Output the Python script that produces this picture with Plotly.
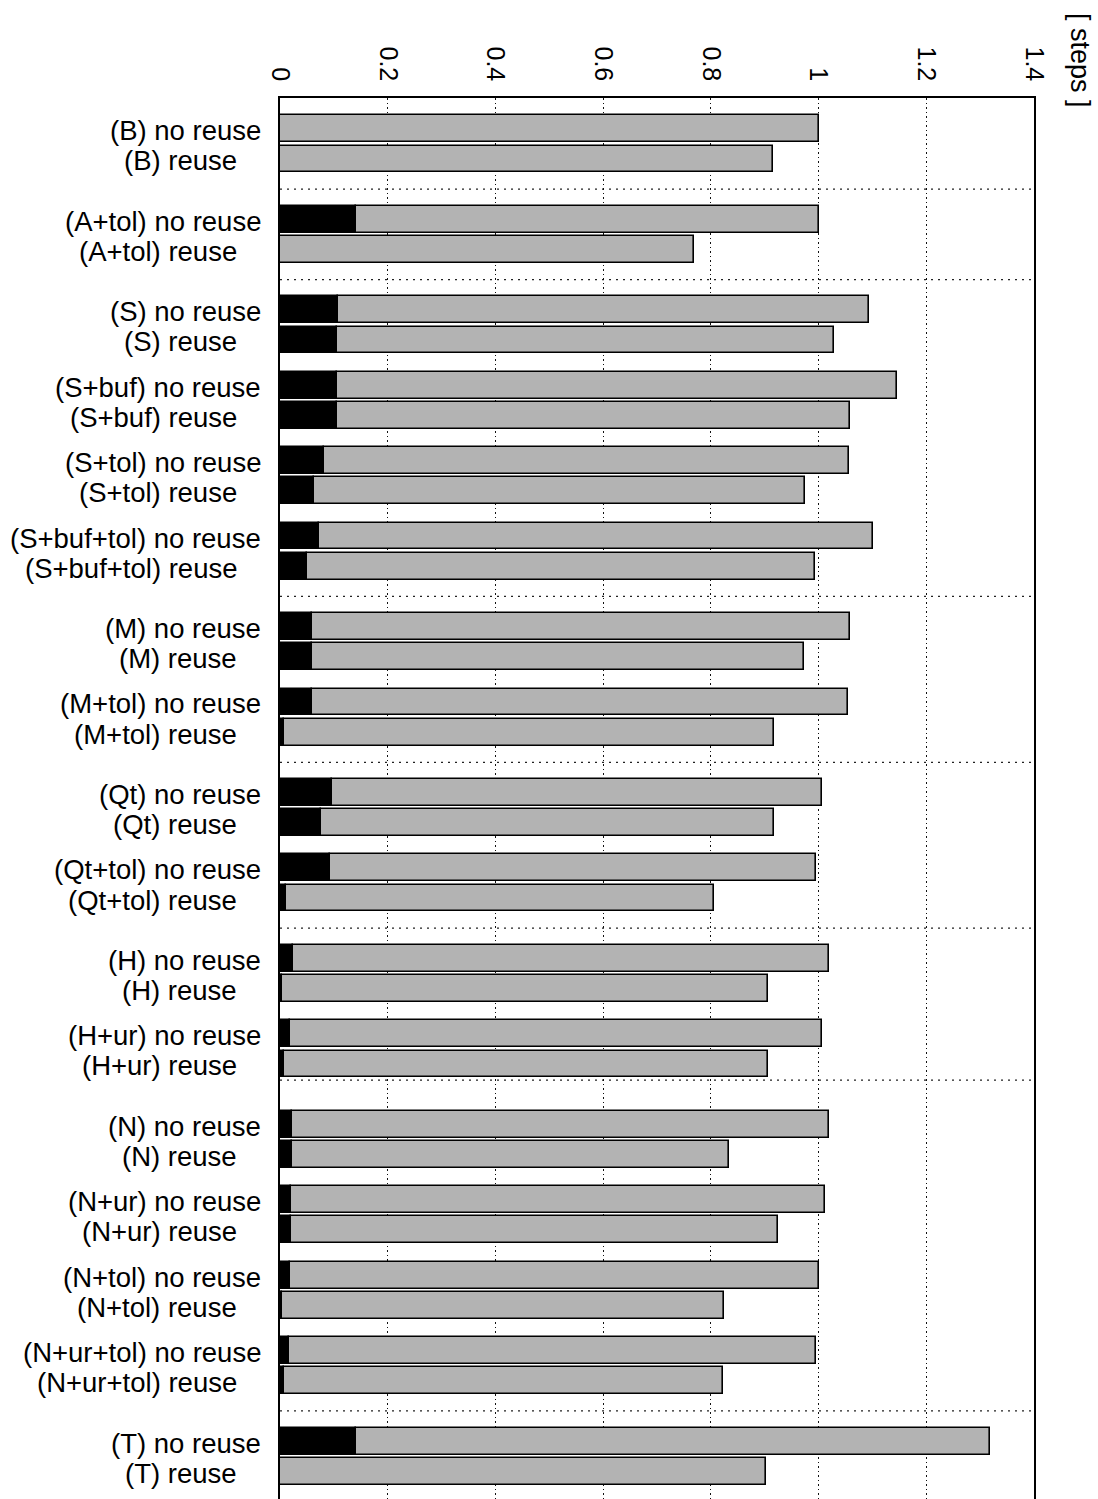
import plotly.graph_objects as go

# Methods, in drawing order (top to bottom), and how they are grouped
methods = ["(B)", "(A+tol)", "(S)", "(S+buf)", "(S+tol)", "(S+buf+tol)",
           "(M)", "(M+tol)", "(Qt)", "(Qt+tol)", "(H)", "(H+ur)",
           "(N)", "(N+ur)", "(N+tol)", "(N+ur+tol)", "(T)"]
group_sizes = [1, 1, 4, 2, 2, 2, 4, 1]

# Steps, normalised: black part and total bar length
black_no_reuse = [0.0, 0.142, 0.107, 0.106, 0.081, 0.073, 0.060, 0.060, 0.097,
                  0.092, 0.024, 0.019, 0.023, 0.0195, 0.018, 0.016, 0.142]
total_no_reuse = [1.000, 1.000, 1.093, 1.145, 1.056, 1.101, 1.059, 1.054, 1.006,
                  0.996, 1.020, 1.006, 1.019, 1.012, 1.000, 0.996, 1.319]
black_reuse = [0.0, 0.0, 0.105, 0.105, 0.063, 0.050, 0.059, 0.007, 0.076,
               0.011, 0.003, 0.0065, 0.023, 0.0195, 0.004, 0.007, 0.0]
total_reuse = [0.916, 0.768, 1.028, 1.059, 0.975, 0.993, 0.973, 0.918, 0.917,
               0.806, 0.907, 0.906, 0.833, 0.925, 0.824, 0.823, 0.903]

x_ticks = [0, 0.2, 0.4, 0.6, 0.8, 1, 1.2, 1.4]
x_tick_text = ["0", "0.2", "0.4", "0.6", "0.8", "1", "1.2", "1.4"]

# Row layout: the two rows of a pair are 2 apart, pairs in a group 3 apart,
# groups 4 apart, with a dotted separator between groups
labels, ys, blacks, totals, is_reuse = [], [], [], [], []
separators = []
prev = None
k = 0
for gi, n in enumerate(group_sizes):
    for j in range(n):
        y_nr = 0.0 if prev is None else prev + (4.0 if j == 0 else 3.0)
        m = methods[k]
        labels += [m + " no reuse", m + " reuse"]
        ys += [y_nr, y_nr + 2.0]
        blacks += [black_no_reuse[k], black_reuse[k]]
        totals += [total_no_reuse[k], total_reuse[k]]
        is_reuse += [False, True]
        prev = y_nr + 2.0
        k += 1
    if gi < len(group_sizes) - 1:
        separators.append(prev + (1.07 if methods[k - 1] == "(H+ur)" else 2.0))

gray = [t - b for t, b in zip(totals, blacks)]

FONT = "Liberation Sans, Arial, Helvetica, sans-serif"

fig = go.Figure()
fig.add_trace(go.Bar(
    y=ys, x=blacks, orientation="h", width=1.78,
    marker=dict(color="#000000", line=dict(color="#000000", width=1.6)),
    showlegend=False, hoverinfo="skip",
))
fig.add_trace(go.Bar(
    y=ys, x=gray, orientation="h", width=1.78, base=blacks,
    marker=dict(color="#b3b3b3", line=dict(color="#000000", width=1.6)),
    showlegend=False, hoverinfo="skip",
))

shapes = []
for s in separators:
    shapes.append(dict(type="line", xref="x", yref="y", x0=0, x1=1.395, y0=s, y1=s,
                       line=dict(color="#222222", width=1.3, dash="2px,5px"),
                       layer="below"))

annotations = []
for lab, y, r in zip(labels, ys, is_reuse):
    annotations.append(dict(
        text=lab, xref="paper", yref="y", x=0, y=y,
        xanchor="right", yanchor="middle", xshift=-41 if r else -17.5, yshift=-2,
        showarrow=False, font=dict(family=FONT, size=27.5, color="#000000"),
    ))
annotations.append(dict(
    text="[ steps ]", xref="paper", yref="paper", x=1.0, y=1.0,
    xanchor="center", yanchor="middle", xshift=46, yshift=38, textangle=90,
    showarrow=False, font=dict(family=FONT, size=27, color="#000000"),
))

fig.update_layout(
    width=1098, height=1499,
    margin=dict(l=280, r=64, t=98, b=0, pad=0),
    paper_bgcolor="white", plot_bgcolor="white",
    barmode="overlay", bargap=0,
    shapes=shapes, annotations=annotations,
    xaxis=dict(
        side="top", range=[0, 1.4], tickvals=x_ticks, ticktext=x_tick_text,
        tickangle=90, tickfont=dict(family=FONT, size=25, color="#000000"),
        ticks="", ticklabelstandoff=6,
        showgrid=True, gridcolor="#111111", gridwidth=1.4, griddash="1.5px,3px",
        showline=True, linecolor="#000000", linewidth=2, zeroline=False,
        fixedrange=True,
    ),
    yaxis=dict(
        range=[90.84, -2.04], showticklabels=False, ticks="", showgrid=False,
        zeroline=False, showline=True, linecolor="#000000", linewidth=2,
        mirror=True, fixedrange=True,
    ),
)

fig.write_html("out.html")
